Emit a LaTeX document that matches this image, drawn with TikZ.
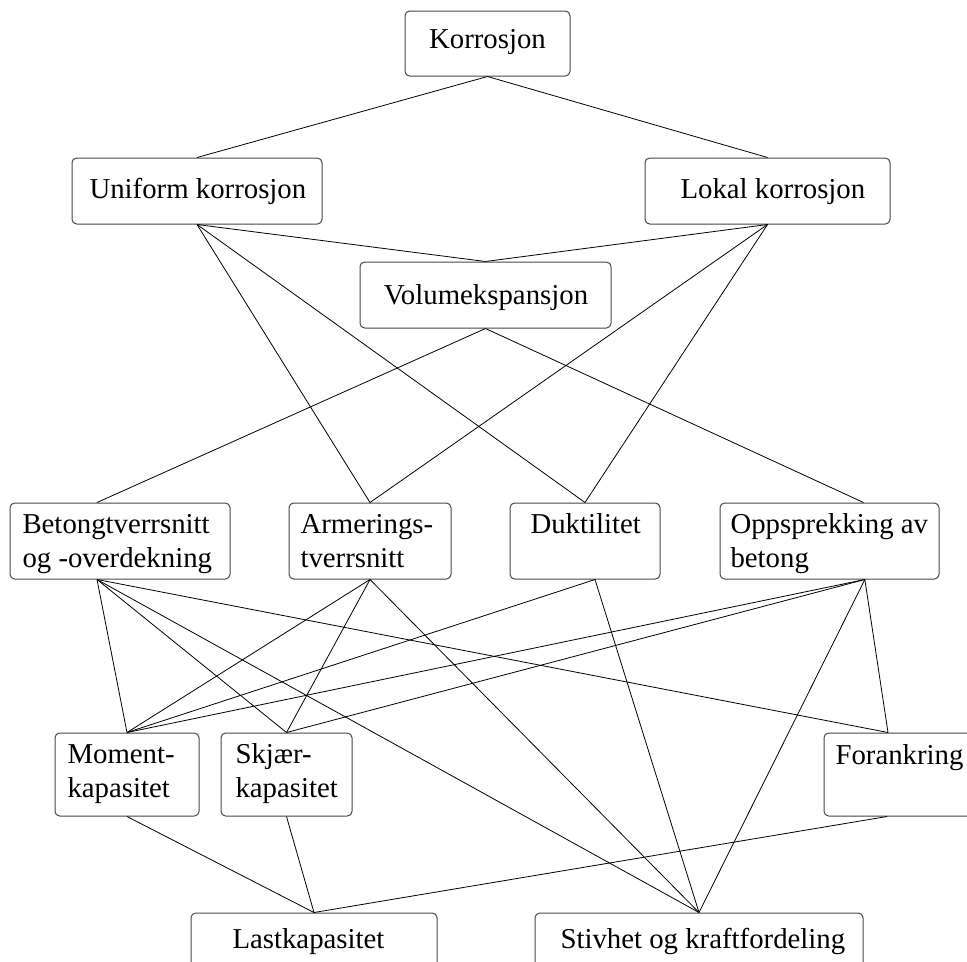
\documentclass[tikz,border=0pt]{standalone}
\usepackage{fontspec}
\setmainfont{Liberation Serif}
\usetikzlibrary{fit}

\tikzset{every picture/.style={line width=0.75pt}}
\tikzset{
box/.style={draw={rgb, 255:red, 70; green, 70; blue, 70 }, rounded corners=3.5pt, inner sep=0pt, line width=0.75pt},
lbl/.style={inner sep=0pt, anchor=base west, align=left, font=\fontsize{21.6}{25.5}\selectfont},
link/.style={line width=0.6pt}}

\begin{document}
\begin{tikzpicture}[x=0.75pt,y=0.75pt,yscale=-1,xscale=1]
\useasboundingbox (0,0) rectangle (967,961);

%Rounded Rect [id:korrosjon]
\node [box, fit={(405,11) (570,76)}] (korr) {};
%Rounded Rect [id:uniform]
\node [box, fit={(72,158) (322,224)}] (unif) {};
%Rounded Rect [id:lokal]
\node [box, fit={(645,158) (890,224)}] (lokal) {};
%Rounded Rect [id:volum]
\node [box, fit={(360,262) (611,328)}] (volum) {};
%Rounded Rect [id:betong]
\node [box, fit={(10,503) (230,579)}] (betong) {};
%Rounded Rect [id:armering]
\node [box, fit={(289,503) (451,579)}] (armer) {};
%Rounded Rect [id:duktilitet]
\node [box, fit={(510,503) (660,579)}] (dukt) {};
%Rounded Rect [id:oppsprekking]
\node [box, fit={(720,503) (939,579)}] (oppspr) {};
%Rounded Rect [id:moment]
\node [box, fit={(55,733) (199,816)}] (moment) {};
%Rounded Rect [id:skjaer]
\node [box, fit={(221,733) (352,816)}] (skjaer) {};
%Rounded Rect [id:forankring]
\node [box, fit={(824,733) (1000,816)}] (forank) {};
%Rounded Rect [id:last]
\node [box, fit={(191,913) (437,990)}] (last) {};
%Rounded Rect [id:stivhet]
\node [box, fit={(535,913) (863,990)}] (stiv) {};

% attachment points off the box centre
\coordinate (betong-n) at ([xshift=-17.25pt]betong.north);
\coordinate (betong-s) at ([xshift=-17.25pt]betong.south);
\coordinate (dukt-s) at ([xshift=7.5pt]dukt.south);
\coordinate (oppspr-n) at ([xshift=25.5pt]oppspr.north);
\coordinate (oppspr-s) at ([xshift=26.5pt]oppspr.south);
\coordinate (forank-n) at ([xshift=-18pt]forank.north);
\coordinate (forank-s) at ([xshift=-18.75pt]forank.south);

% Text Node
\node [lbl, anchor=base] (korr-t) at (487.5,48) {Korrosjon};
% Text Node
\node [lbl] (unif-t) at (89,198) {Uniform korrosjon};
% Text Node
\node [lbl] (lokal-t) at (680,198) {Lokal korrosjon};
% Text Node
\node [lbl, anchor=base] (volum-t) at (486,304) {Volumekspansjon};
% Text Node (base = last line)
\node [lbl] (betong-t) at (22,567) {Betongtverrsnitt\\og -overdekning};
% Text Node
\node [lbl] (armer-t) at (300,567) {Armerings-\\tverrsnitt};
% Text Node
\node [lbl] (dukt-t) at (530,533) {Duktilitet};
% Text Node
\node [lbl] (oppspr-t) at (730,567) {Oppsprekking av\\betong};
% Text Node
\node [lbl] (moment-t) at (67,797) {Moment-\\kapasitet};
% Text Node
\node [lbl] (skjaer-t) at (235,797) {Skjær-\\kapasitet};
% Text Node
\node [lbl] (forank-t) at (835,764) {Forankring};
% Text Node
\node [lbl] (last-t) at (232,948) {Lastkapasitet};
% Text Node
\node [lbl] (stiv-t) at (560,948) {Stivhet og kraftfordeling};

%Straight Lines
\draw [link] (korr.south) -- (unif.north);
\draw [link] (korr.south) -- (lokal.north);
\draw [link] (unif.south) -- (volum.north);
\draw [link] (lokal.south) -- (volum.north);
\draw [link] (unif.south) -- (armer.north);
\draw [link] (unif.south) -- (dukt.north);
\draw [link] (lokal.south) -- (armer.north);
\draw [link] (lokal.south) -- (dukt.north);
\draw [link] (volum.south) -- (betong-n);
\draw [link] (volum.south) -- (oppspr-n);

%Straight Lines
\draw [link] (betong-s) -- (moment.north);
\draw [link] (betong-s) -- (skjaer.north);
\draw [link] (betong-s) -- (stiv.north);
\draw [link] (betong-s) -- (forank-n);
\draw [link] (armer.south) -- (moment.north);
\draw [link] (armer.south) -- (skjaer.north);
\draw [link] (armer.south) -- (stiv.north);
\draw [link] (dukt-s) -- (moment.north);
\draw [link] (dukt-s) -- (stiv.north);
\draw [link] (oppspr-s) -- (moment.north);
\draw [link] (oppspr-s) -- (skjaer.north);
\draw [link] (oppspr-s) -- (stiv.north);
\draw [link] (oppspr-s) -- (forank-n);

%Straight Lines
\draw [link] (moment.south) -- (last.north);
\draw [link] (skjaer.south) -- (last.north);
\draw [link] (forank-s) -- (last.north);

\end{tikzpicture}
\end{document}
